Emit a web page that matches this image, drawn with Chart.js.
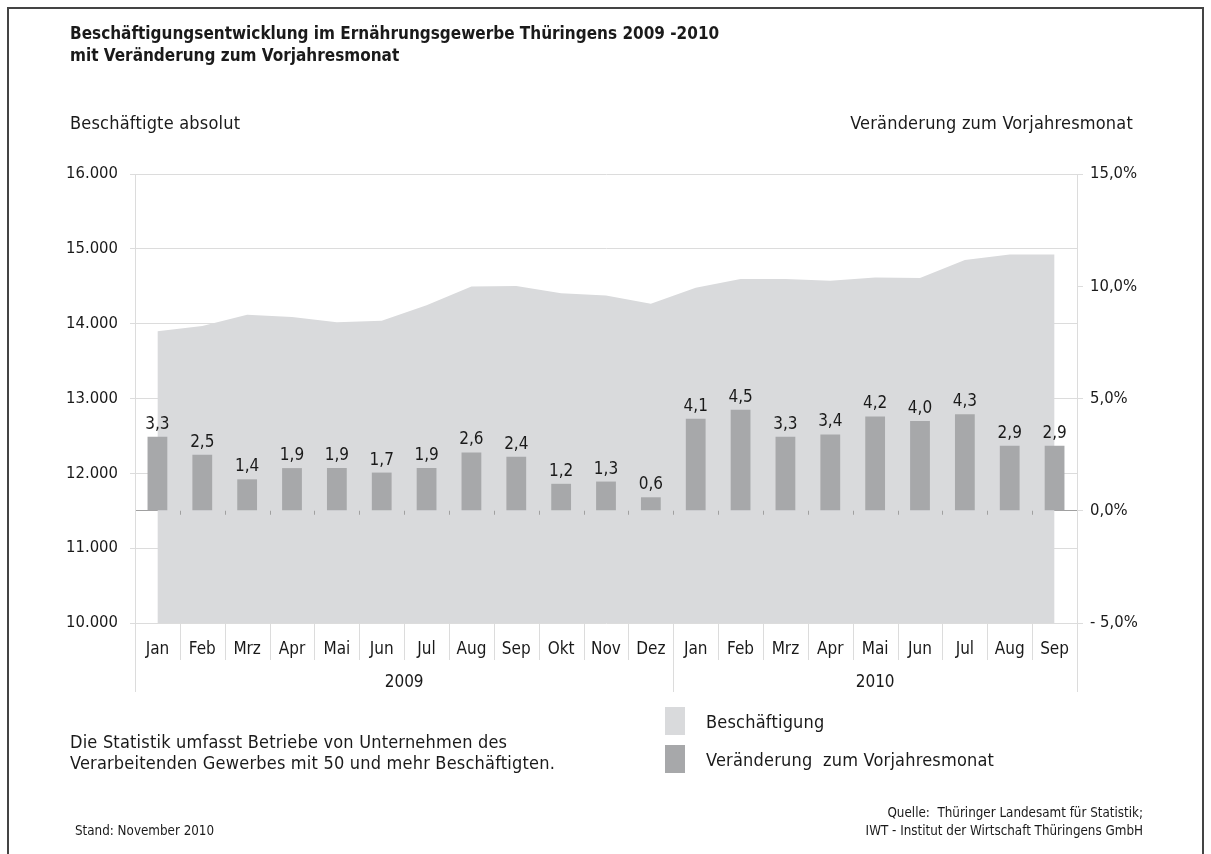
<!DOCTYPE html>
<html lang="de">
<head>
<meta charset="utf-8">
<title>Beschäftigungsentwicklung im Ernährungsgewerbe Thüringens 2009-2010</title>
<script src="https://cdn.jsdelivr.net/npm/chart.js@4.4.1/dist/chart.umd.min.js"></script>
<style>
  body { margin: 0; background: #fff; }
  #wrap {
    position: relative; width: 1211px; height: 854px; overflow: hidden;
    font-family: "Liberation Sans Narrow", "DejaVu Sans Condensed", "Roboto", sans-serif;
    color: #1a1a1a;
  }
  #frame {
    position: absolute; left: 7px; top: 7px; width: 1197px; height: 900px;
    border: 2px solid #444; box-sizing: border-box;
  }
  canvas { position: absolute; left: 0; top: 0; }
  .txt { position: absolute; white-space: nowrap; }
  .title { left: 70px; top: 22px; font-size: 17px; font-weight: bold; line-height: 22px; }
  .reg { font-size: 18px; letter-spacing: 0.2px; }
  .axis-title { top: 112px; line-height: 22px; }
  .note { left: 70px; top: 731px; line-height: 21px; }
  .legend { left: 665px; top: 707px; }
  .legend .row { display: flex; align-items: center; height: 28px; margin-bottom: 10px; }
  .legend .sw { width: 20px; height: 28px; margin-right: 21px; }
  .small { font-size: 13.3px; line-height: 18px; }
</style>
</head>
<body>
<div id="wrap">
  <div id="frame"></div>
  <canvas id="chart" width="1211" height="854"></canvas>

  <div class="txt title">Beschäftigungsentwicklung im Ernährungsgewerbe Thüringens 2009 -2010<br>mit Veränderung zum Vorjahresmonat</div>
  <div class="txt reg axis-title" style="left:70px">Beschäftigte absolut</div>
  <div class="txt reg axis-title" style="right:78px">Veränderung zum Vorjahresmonat</div>

  <div class="txt reg note">Die Statistik umfasst Betriebe von Unternehmen des<br>Verarbeitenden Gewerbes mit 50 und mehr Beschäftigten.</div>

  <div class="txt reg legend">
    <div class="row"><div class="sw" style="background:#d9dadc"></div>Beschäftigung</div>
    <div class="row"><div class="sw" style="background:#a7a8aa"></div>Veränderung&nbsp; zum Vorjahresmonat</div>
  </div>

  <div class="txt small" style="left:75px; top:822px">Stand: November 2010</div>
  <div class="txt small" style="right:68px; top:804px; text-align:right">Quelle:&nbsp; Thüringer Landesamt für Statistik;<br>IWT - Institut der Wirtschaft Thüringens GmbH</div>
</div>

<script>
// Monate Jan 2009 - Sep 2010
const months = ["Jan", "Feb", "Mrz", "Apr", "Mai", "Jun", "Jul", "Aug", "Sep", "Okt", "Nov", "Dez",
                "Jan", "Feb", "Mrz", "Apr", "Mai", "Jun", "Jul", "Aug", "Sep"];
const years = ["2009", "2010"];
const monthsPerYear = [12, 9];

// Beschäftigte absolut
const employees = [13900, 13970, 14120, 14090, 14020, 14040, 14245, 14495, 14505, 14405, 14375, 14265,
                   14480, 14597, 14597, 14574, 14618, 14610, 14852, 14923, 14923];

// Veränderung zum Vorjahresmonat in %
const changePct = [3.3, 2.5, 1.4, 1.9, 1.9, 1.7, 1.9, 2.6, 2.4, 1.2, 1.3, 0.6,
                   4.1, 4.5, 3.3, 3.4, 4.2, 4.0, 4.3, 2.9, 2.9];

const leftTicks = [10000, 16000, 1000];
const rightTicks = [-5, 15, 5];

const FONT = '"Liberation Sans Narrow", "DejaVu Sans Condensed", "Roboto", sans-serif';
const TEXT = "#1a1a1a";
const GRID = "#dcdcdc";

const fmtNum = (v) => v.toLocaleString("de-DE");
const fmtPct = (v) => (v < 0 ? "- " : "") + Math.abs(v).toFixed(1).replace(".", ",") + "%";

// Jahresgruppen, Trennstriche und Werte über den Balken
const extras = {
  id: "extras",
  afterDatasetsDraw(chart) {
    const { ctx, scales } = chart;
    const x = scales.x, y1 = scales.y1;
    const bottom = chart.chartArea.bottom;
    const zeroY = y1.getPixelForValue(0);
    const half = (x.getPixelForValue(1) - x.getPixelForValue(0)) / 2;

    ctx.save();
    ctx.strokeStyle = GRID;
    ctx.lineWidth = 1;

    // Monatsgrenzen unter der Achse
    for (let i = 0; i <= months.length; i++) {
      const px = Math.round(x.getPixelForValue(i) - half) + 0.5;
      ctx.beginPath();
      ctx.moveTo(px, bottom);
      ctx.lineTo(px, bottom + 37);
      ctx.stroke();
    }

    // Jahresgrenzen und -beschriftung
    let start = 0;
    ctx.fillStyle = TEXT;
    ctx.font = "17px " + FONT;
    ctx.textAlign = "center";
    ctx.textBaseline = "middle";
    years.forEach((yr, k) => {
      const end = start + monthsPerYear[k] - 1;
      const l = x.getPixelForValue(start) - half;
      const r = x.getPixelForValue(end) + half;
      [l, r].forEach((p) => {
        const px = Math.round(p) + 0.5;
        ctx.beginPath();
        ctx.moveTo(px, bottom);
        ctx.lineTo(px, bottom + 69);
        ctx.stroke();
      });
      ctx.fillText(yr, (l + r) / 2, bottom + 60);
      start = end + 1;
    });

    // kleine Striche an der Nulllinie
    ctx.strokeStyle = "#a0a0a0";
    for (let i = 1; i < months.length; i++) {
      const px = Math.round(x.getPixelForValue(i) - half) + 0.5;
      ctx.beginPath();
      ctx.moveTo(px, zeroY);
      ctx.lineTo(px, zeroY + 4);
      ctx.stroke();
    }

    // Werte über den Balken
    const meta = chart.getDatasetMeta(0);
    ctx.textBaseline = "alphabetic";
    meta.data.forEach((bar, i) => {
      ctx.fillText(changePct[i].toFixed(1).replace(".", ","), bar.x, bar.y - 8);
    });
    ctx.restore();
  },
};

new Chart(document.getElementById("chart"), {
  type: "bar",
  data: {
    labels: months,
    datasets: [
      {
        type: "bar",
        label: "Veränderung zum Vorjahresmonat",
        data: changePct,
        yAxisID: "y1",
        backgroundColor: "#a7a8aa",
        barPercentage: 0.9,
        categoryPercentage: 0.49,
        order: 0,
      },
      {
        type: "line",
        label: "Beschäftigung",
        data: employees,
        yAxisID: "y",
        backgroundColor: "#d9dadc",
        borderWidth: 0,
        pointRadius: 0,
        tension: 0,
        fill: "start",
        order: 1,
      },
    ],
  },
  options: {
    responsive: false,
    animation: false,
    devicePixelRatio: 1,
    layout: { padding: { top: 174, left: 0, right: 0, bottom: 0 } },
    plugins: { legend: { display: false }, tooltip: { enabled: false } },
    scales: {
      x: {
        offset: true,
        grid: { display: false },
        border: { display: false },
        ticks: { color: TEXT, font: { family: FONT, size: 17 }, padding: 8, maxRotation: 0, autoSkip: false },
        afterFit: (s) => { s.height = 854 - 623; },
      },
      y: {
        position: "left",
        min: leftTicks[0],
        max: leftTicks[1],
        ticks: { stepSize: leftTicks[2], color: TEXT, font: { family: FONT, size: 16.5 }, padding: 12, callback: fmtNum },
        grid: { color: GRID, tickLength: 5 },
        border: { color: GRID },
        afterFit: (s) => { s.width = 135; },
      },
      y1: {
        position: "right",
        min: rightTicks[0],
        max: rightTicks[1],
        z: 1,
        ticks: { stepSize: rightTicks[2], color: TEXT, font: { family: FONT, size: 16.5 }, padding: 7, callback: fmtPct },
        grid: {
          tickLength: 6,
          tickColor: GRID,
          color: (c) => (c.tick && c.tick.value === 0 ? "#a0a0a0" : "rgba(0,0,0,0)"),
        },
        border: { color: GRID },
        afterFit: (s) => { s.width = 1211 - 1077; },
      },
    },
  },
  plugins: [extras],
});
</script>
</body>
</html>
